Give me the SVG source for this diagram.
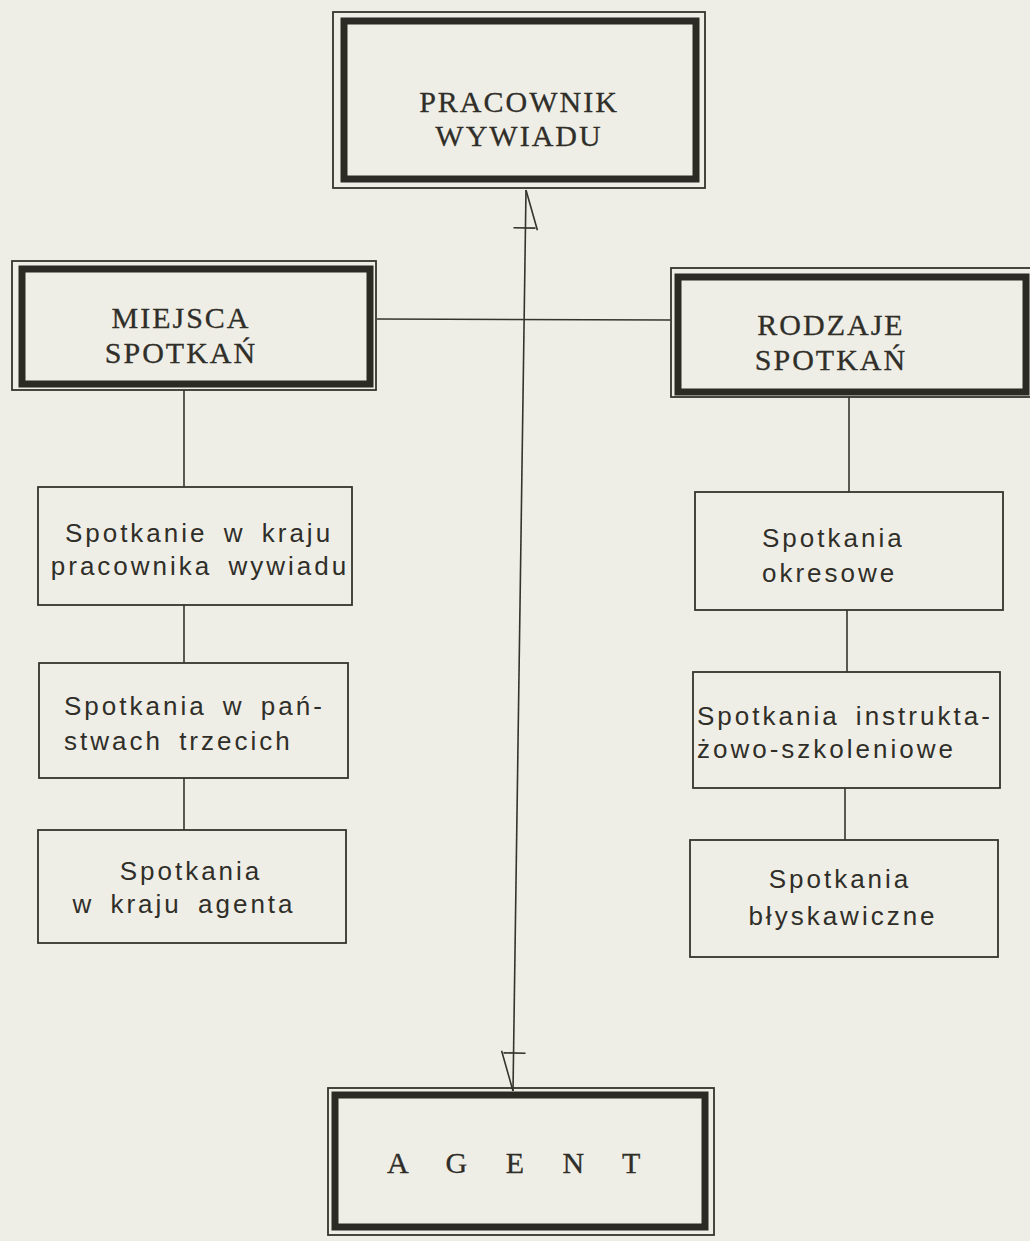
<svg xmlns="http://www.w3.org/2000/svg" width="1030" height="1241" viewBox="0 0 1030 1241">
  <style>
    .paper { fill: #efeee6; }
    .thin { fill: none; stroke: #34332d; stroke-width: 1.8; }
    .thick { fill: none; stroke: #2b2a25; stroke-width: 7; }
    .box { fill: none; stroke: #34332d; stroke-width: 1.8; }
    .wire { fill: none; stroke: #34332d; stroke-width: 1.6; }
    .head { font-family: "Liberation Serif", "Times New Roman", serif; font-size: 30px; fill: #2f2e29; letter-spacing: 2px; stroke: #2f2e29; stroke-width: 0.3; }
    .agent { font-family: "Liberation Serif", "Times New Roman", serif; font-size: 30px; fill: #2f2e29; letter-spacing: 15.5px; stroke: #2f2e29; stroke-width: 0.3; }
    .item { font-family: "Liberation Sans", Arial, sans-serif; font-size: 26px; fill: #2f2e29; letter-spacing: 3px; word-spacing: 6px; }
  </style>
  <defs>
    <!-- half-open arrowhead; reversed at the start of the main line -->
    <marker id="halfArrow" markerUnits="userSpaceOnUse" orient="auto-start-reverse" refX="0" refY="0" markerWidth="60" markerHeight="60" viewBox="-50 -30 60 60" overflow="visible">
      <path d="M-40,12 L0,0 M-38,10 L-38,-12" fill="none" stroke="#34332d" stroke-width="1.6"/>
    </marker>
  </defs>

  <rect class="paper" x="0" y="0" width="1030" height="1241"/>

  <!-- connectors -->
  <g id="connectors">
    <path class="wire" d="M526,190 L513,1091" marker-start="url(#halfArrow)" marker-end="url(#halfArrow)"/>
    <path class="wire" d="M377,319 L671,320"/>
    <path class="wire" d="M184,390 L184,487"/>
    <path class="wire" d="M184,605 L184,663"/>
    <path class="wire" d="M184,778 L184,830"/>
    <path class="wire" d="M849,397 L849,492"/>
    <path class="wire" d="M847,610 L847,672"/>
    <path class="wire" d="M845,788 L845,840"/>
  </g>

  <!-- main headings -->
  <g id="pracownik">
    <rect class="thin" x="333" y="12" width="372" height="176"/>
    <rect class="thick" x="344" y="21" width="352" height="158"/>
    <text class="head" x="519" y="112" text-anchor="middle">PRACOWNIK</text>
    <text class="head" x="519" y="146" text-anchor="middle">WYWIADU</text>
  </g>

  <g id="miejsca">
    <rect class="thin" x="12" y="261" width="364" height="129"/>
    <rect class="thick" x="22" y="269" width="348" height="115"/>
    <text class="head" x="181" y="328" text-anchor="middle">MIEJSCA</text>
    <text class="head" x="181" y="363" text-anchor="middle">SPOTKAŃ</text>
  </g>

  <g id="rodzaje">
    <rect class="thin" x="671" y="268" width="370" height="129"/>
    <rect class="thick" x="678" y="277" width="348" height="115"/>
    <text class="head" x="831" y="335" text-anchor="middle">RODZAJE</text>
    <text class="head" x="831" y="370" text-anchor="middle">SPOTKAŃ</text>
  </g>

  <g id="agent">
    <rect class="thin" x="328" y="1088" width="386" height="147"/>
    <rect class="thick" x="335" y="1095" width="370" height="132"/>
    <text class="agent" x="387" y="1173">A G E N T</text>
  </g>

  <!-- places of meetings -->
  <g id="kraj-pracownika">
    <rect class="box" x="38" y="487" width="314" height="118"/>
    <text class="item" x="199" y="542" text-anchor="middle">Spotkanie w kraju</text>
    <text class="item" x="200" y="575" text-anchor="middle">pracownika wywiadu</text>
  </g>

  <g id="panstwa-trzecie">
    <rect class="box" x="39" y="663" width="309" height="115"/>
    <text class="item" x="64" y="715">Spotkania w pań-</text>
    <text class="item" x="64" y="750">stwach trzecich</text>
  </g>

  <g id="kraj-agenta">
    <rect class="box" x="38" y="830" width="308" height="113"/>
    <text class="item" x="191" y="880" text-anchor="middle">Spotkania</text>
    <text class="item" x="184" y="913" text-anchor="middle">w kraju agenta</text>
  </g>

  <!-- kinds of meetings -->
  <g id="okresowe">
    <rect class="box" x="695" y="492" width="308" height="118"/>
    <text class="item" x="762" y="547">Spotkania</text>
    <text class="item" x="762" y="582">okresowe</text>
  </g>

  <g id="instruktazowo">
    <rect class="box" x="693" y="672" width="307" height="116"/>
    <text class="item" x="697" y="725">Spotkania instrukta-</text>
    <text class="item" x="697" y="758">żowo-szkoleniowe</text>
  </g>

  <g id="blyskawiczne">
    <rect class="box" x="690" y="840" width="308" height="117"/>
    <text class="item" x="840" y="888" text-anchor="middle">Spotkania</text>
    <text class="item" x="843" y="925" text-anchor="middle">błyskawiczne</text>
  </g>
</svg>
